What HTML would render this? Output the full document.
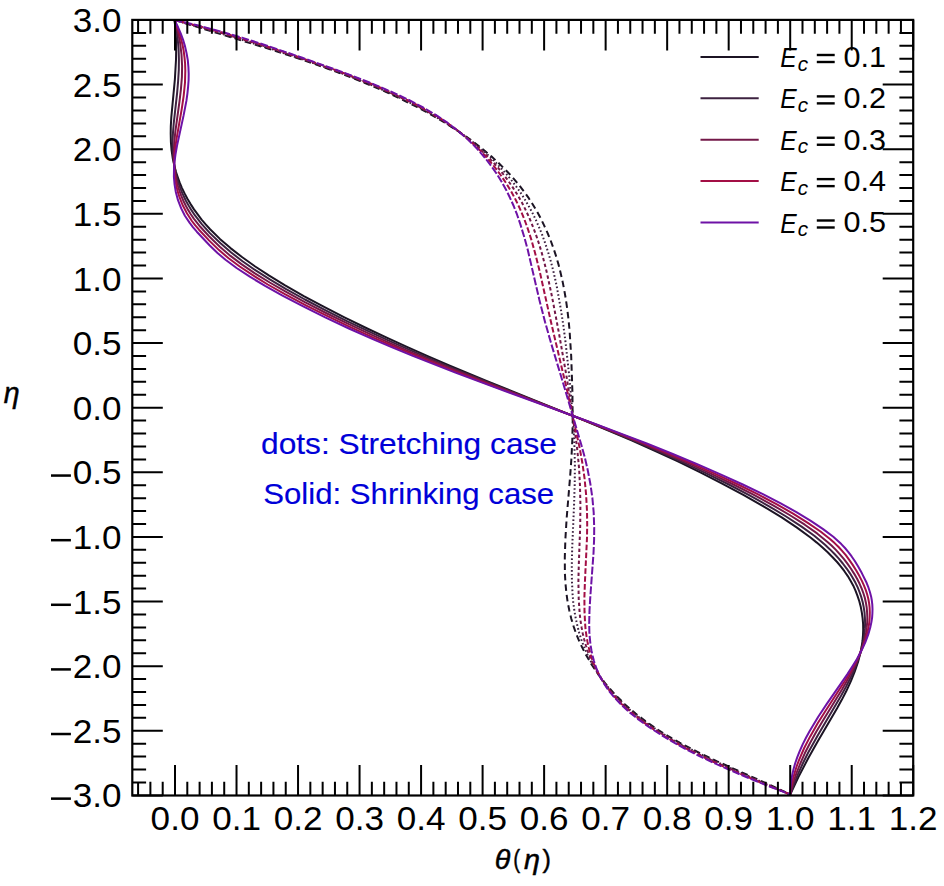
<!DOCTYPE html><html><head><meta charset="utf-8"><style>html,body{margin:0;padding:0;background:#fff;}svg{display:block;}text{font-family:"Liberation Sans",sans-serif;}</style></head><body>
<svg width="944" height="886" viewBox="0 0 944 886">
<rect width="944" height="886" fill="#fff"/>
<text x="261.0" y="453.8" font-size="29.3" fill="#0000d8" textLength="296" lengthAdjust="spacingAndGlyphs" stroke="#0000d8" stroke-width="0.15">dots: Stretching case</text>
<text x="263.2" y="504.0" font-size="29.3" fill="#0000d8" textLength="291" lengthAdjust="spacingAndGlyphs" stroke="#0000d8" stroke-width="0.15">Solid: Shrinking case</text>
<g fill="none" stroke-width="2.0" stroke-linejoin="round">
<path d="M174.5,20.0 175.4,28.7 176.0,38.4 176.2,48.6 176.0,59.7 174.9,79.1 171.3,117.4 170.8,126.1 170.7,133.8 170.9,142.1 171.6,150.3 172.8,158.5 174.5,166.3 176.0,172.1 177.8,177.4 179.7,182.7 182.0,188.1 184.6,193.4 187.4,198.7 190.6,204.1 194.0,209.4 197.9,214.7 201.6,219.6 205.7,224.4 210.1,229.2 219.9,238.9 230.5,248.1 242.3,257.3 255.2,266.5 269.2,275.7 285.1,285.4 303.8,296.1 323.6,306.7 344.4,317.4 367.2,328.5 386.7,337.7 406.9,346.9 427.7,356.1 449.2,365.4 487.7,381.3 582.2,419.6 607.8,430.3 631.5,440.4 655.4,451.1 678.4,461.7 700.3,472.4 721.2,483.1 743.8,495.2 764.3,506.8 781.7,517.4 797.0,527.6 810.8,537.8 816.8,542.6 822.5,547.5 827.7,552.3 832.6,557.2 837.1,562.0 841.1,566.8 844.4,571.2 847.8,576.1 850.7,580.9 853.3,585.7 855.5,590.6 857.5,595.9 859.3,601.2 860.8,607.1 861.8,612.4 862.6,618.2 863.1,624.0 863.2,629.8 863.0,635.1 862.5,641.0 861.6,646.8 860.5,652.6 858.1,661.8 854.8,671.5 850.9,681.2 846.2,691.3 841.9,699.6 837.1,708.3 817.5,741.7 808.5,757.7 798.4,777.1 790.2,794.5" stroke="#1c1424"/>
<path d="M174.5,20.0 176.3,29.2 177.7,38.9 178.6,49.1 178.9,59.2 178.8,69.9 178.1,81.5 177.1,93.1 173.7,123.7 173.0,132.4 172.6,140.1 172.7,149.3 173.3,158.0 174.4,166.3 176.1,174.5 177.5,179.8 179.2,185.2 181.2,190.5 183.3,195.3 185.9,200.7 188.6,205.5 191.6,210.4 194.8,215.2 201.6,223.9 209.9,233.1 220.5,243.3 231.2,252.5 242.5,261.2 255.7,270.4 270.2,279.6 285.7,288.8 304.9,299.5 325.2,310.1 347.5,321.3 370.9,332.4 389.9,341.1 409.6,349.9 429.9,358.6 451.9,367.8 490.3,383.3 586.1,421.1 612.4,431.7 635.5,441.4 660.1,452.1 683.7,462.7 706.3,473.4 727.8,484.0 749.1,495.2 769.1,506.3 786.1,516.5 801.6,526.6 814.3,535.8 820.3,540.7 825.3,545.1 830.0,549.4 834.8,554.3 838.8,558.6 842.8,563.5 846.5,568.3 849.8,573.1 852.8,578.0 855.5,582.8 857.8,587.7 859.7,592.5 861.4,597.4 862.7,602.2 863.7,607.1 864.5,612.4 864.9,617.7 865.1,623.0 864.9,628.4 864.4,633.7 863.7,639.0 862.5,644.8 860.5,652.6 857.7,660.8 854.3,669.5 850.3,678.3 845.9,687.0 840.8,696.2 817.7,735.4 808.1,752.8 802.8,763.5 798.0,774.2 793.9,784.3 790.2,794.5" stroke="#3d2240"/>
<path d="M174.5,20.0 177.8,31.6 180.1,42.8 181.5,54.4 182.1,66.0 181.9,77.2 180.9,89.3 179.5,101.4 175.3,131.9 174.5,140.1 174.0,147.9 173.8,156.6 174.2,165.3 175.2,173.5 176.7,181.3 178.0,186.1 179.5,191.0 181.3,195.8 183.3,200.7 185.7,205.5 188.1,209.9 190.8,214.2 193.8,218.6 200.3,226.8 208.8,236.0 219.8,246.7 230.5,255.9 241.4,264.1 254.9,273.3 269.7,282.5 285.7,291.7 305.3,302.4 327.0,313.5 348.8,324.2 372.8,335.3 391.2,343.6 410.2,351.8 452.5,369.2 493.2,385.2 589.0,422.0 616.0,432.7 639.8,442.4 665.0,453.0 688.2,463.2 711.3,473.9 732.4,484.0 753.4,494.7 773.1,505.3 789.6,515.0 804.8,524.7 817.1,533.4 827.2,541.7 831.5,545.5 835.9,549.9 839.9,554.3 844.0,559.1 847.6,563.9 851.0,568.8 854.4,574.1 857.2,579.0 859.6,583.8 861.7,588.6 863.3,593.0 864.8,597.8 865.9,602.7 866.7,607.5 867.1,612.4 867.3,617.2 867.2,622.1 866.7,627.4 866.1,632.2 865.0,637.6 862.8,645.8 859.9,654.0 856.3,662.8 851.5,672.4 847.3,680.2 842.0,689.4 823.6,719.4 816.4,731.5 810.2,742.7 804.8,753.3 800.1,764.0 796.1,774.2 792.8,784.3 790.2,794.5" stroke="#731848"/>
<path d="M174.5,20.0 177.0,26.3 179.2,32.6 180.9,38.4 182.5,44.7 183.7,51.0 184.5,57.3 185.1,63.6 185.3,70.4 185.0,82.5 183.7,95.6 181.8,108.6 176.5,139.2 175.3,147.4 174.6,154.7 174.2,163.4 174.4,171.6 175.2,179.4 176.6,187.1 177.8,191.9 179.2,196.3 182.6,205.0 186.9,213.3 191.9,221.0 195.3,225.4 199.0,229.7 209.0,240.4 219.0,250.1 228.6,258.3 239.7,266.5 253.5,275.7 267.8,284.5 284.9,294.2 305.9,305.3 327.0,315.9 349.3,326.6 372.7,337.3 391.6,345.5 411.1,353.7 453.2,370.7 493.7,386.2 593.3,423.5 619.7,433.6 644.1,443.3 670.0,454.0 693.7,464.2 716.4,474.3 738.1,484.5 758.6,494.7 776.9,504.4 793.1,513.6 807.8,522.8 820.5,531.5 830.3,539.2 834.6,543.1 838.6,547.0 842.1,550.9 845.8,555.2 849.4,560.1 852.7,564.9 856.4,570.7 859.4,576.1 861.9,580.9 863.9,585.3 865.8,590.1 867.2,594.5 868.3,598.8 869.1,603.2 869.6,607.5 869.8,612.4 869.7,617.2 869.3,622.1 868.6,626.9 867.6,631.8 865.5,639.5 862.5,647.7 858.9,656.0 854.5,664.7 850.1,672.4 845.0,680.7 825.6,710.7 817.7,723.3 810.2,736.4 804.2,748.0 799.0,760.1 796.8,765.9 795.0,771.7 793.5,777.1 792.1,782.9 791.0,788.7 790.2,794.5" stroke="#a30f45"/>
<path d="M174.5,20.0 178.1,27.3 180.8,33.6 183.1,39.9 185.1,46.6 186.6,53.4 187.8,60.2 188.4,67.0 188.7,73.8 188.6,80.1 188.1,86.8 187.4,93.6 186.4,100.9 183.6,115.4 177.0,145.9 175.6,153.7 174.6,161.0 174.0,169.2 173.9,176.9 174.6,184.7 175.8,191.9 178.0,200.2 181.2,208.4 184.9,215.7 189.7,222.9 193.1,227.3 196.8,231.7 209.5,245.2 217.5,253.0 225.5,259.8 236.6,268.0 249.8,276.7 265.1,285.9 282.5,295.6 303.7,306.7 325.2,317.4 348.9,328.5 372.8,339.2 392.2,347.4 412.2,355.7 455.4,372.6 497.0,388.1 596.5,424.4 623.5,434.6 647.4,443.8 672.8,454.0 697.2,464.2 720.5,474.3 742.8,484.5 762.9,494.2 780.7,503.4 796.4,512.1 810.8,520.8 823.1,529.1 833.3,536.8 837.7,540.7 841.3,544.1 845.0,548.0 848.2,551.8 851.5,556.2 854.8,561.0 858.3,566.8 861.8,573.1 866.6,582.8 868.5,587.7 869.9,592.0 871.1,596.4 871.8,600.3 872.3,604.6 872.5,609.0 872.4,613.3 872.1,617.7 871.4,622.1 870.4,626.9 868.2,634.7 865.3,642.4 861.5,650.6 857.0,658.9 852.6,666.1 847.6,673.9 826.8,703.9 818.1,717.0 809.7,731.0 806.0,737.8 802.8,744.1 799.8,750.9 797.3,757.2 795.1,763.5 793.4,769.8 792.1,775.6 791.1,781.9 790.4,788.2 790.2,794.5" stroke="#6e12a6"/>
<path d="M174.5,20.0 266.5,48.1 292.2,56.3 315.0,64.1 339.1,72.8 361.5,81.5 382.1,90.2 401.0,99.0 420.2,108.6 438.4,118.8 447.2,124.1 455.6,129.5 463.5,134.8 471.0,140.1 478.1,145.5 485.3,151.3 491.6,156.6 497.9,162.4 503.9,168.2 509.5,174.0 514.7,179.8 519.9,186.1 524.3,191.9 528.8,198.2 532.8,204.5 536.9,211.3 540.6,218.1 544.1,225.4 547.4,232.6 550.6,240.4 553.4,248.1 556.0,255.9 558.4,264.1 560.5,272.4 562.5,281.1 564.2,289.8 565.8,299.0 567.2,308.7 568.5,319.3 569.6,331.0 571.2,356.1 572.4,391.5 572.7,421.5 572.3,440.4 571.4,458.8 570.1,476.8 566.6,518.9 565.4,538.8 564.8,557.2 564.9,573.6 565.5,583.8 566.4,593.0 567.6,601.7 569.3,610.4 571.3,618.7 573.6,626.4 576.5,634.7 579.7,642.4 585.2,653.5 591.4,664.2 598.6,674.9 606.5,685.0 615.2,694.7 625.0,704.4 635.6,713.6 646.3,721.8 656.9,729.1 667.7,735.9 679.6,742.7 693.4,749.9 716.6,761.1 767.4,783.8 790.2,794.5" stroke="#1c1424" stroke-dasharray="6.5 4"/>
<path d="M174.5,20.0 214.6,31.6 248.4,41.8 279.0,51.5 308.0,61.2 333.9,70.4 358.0,79.6 379.1,88.3 399.4,97.5 417.8,106.7 434.4,115.9 450.0,125.6 457.2,130.4 464.6,135.8 471.6,141.1 478.2,146.4 484.4,151.7 490.2,157.1 495.6,162.4 501.1,168.2 506.3,174.0 511.1,179.8 515.9,186.1 520.4,192.4 524.4,198.7 528.4,205.5 532.1,212.3 535.7,219.6 539.1,227.3 542.3,235.1 545.2,243.3 547.9,251.5 550.5,260.2 552.8,269.0 555.0,278.2 557.1,288.3 561.0,310.1 563.3,325.2 565.4,341.1 569.5,378.4 572.5,412.8 573.6,429.8 574.4,444.8 574.9,464.6 574.7,485.5 574.0,506.3 572.2,547.5 571.8,564.4 571.9,580.4 572.6,594.5 573.3,602.7 574.4,610.9 575.8,618.7 577.4,625.9 579.3,633.2 581.5,640.0 584.0,646.8 586.9,653.5 592.0,663.7 597.8,673.4 604.3,682.6 611.8,691.8 620.0,700.5 629.3,709.3 639.3,717.5 649.9,725.2 660.9,732.5 672.2,739.3 684.5,746.1 698.7,753.3 710.8,759.1 725.5,765.9 790.2,794.5" stroke="#3d2240" stroke-dasharray="1.6 2.3"/>
<path d="M174.5,20.0 203.2,27.7 233.2,36.5 264.4,46.2 296.6,56.8 327.2,67.5 353.2,77.2 376.0,86.4 396.8,95.6 414.5,104.3 430.4,113.0 444.7,121.7 458.0,130.9 470.4,140.6 476.5,145.9 482.3,151.3 487.7,156.6 492.8,161.9 498.0,167.7 502.7,173.5 507.9,180.3 512.9,187.6 517.5,194.9 521.7,202.1 525.6,209.9 529.2,217.6 532.8,226.3 536.1,235.1 539.0,243.8 541.8,253.0 544.4,262.7 547.0,273.3 552.0,296.6 559.0,333.4 566.3,375.0 571.6,408.5 576.7,444.8 578.0,456.9 579.1,468.5 580.0,486.0 580.4,504.4 580.2,526.2 578.8,564.9 578.4,581.4 578.7,598.8 579.7,613.8 580.5,620.6 581.6,627.4 582.8,633.7 584.2,639.5 586.0,645.8 587.9,651.6 590.1,657.4 592.5,662.8 597.2,672.0 602.6,680.7 609.1,689.4 616.2,697.6 624.0,705.4 632.8,713.1 642.7,720.9 653.7,728.6 665.2,735.9 676.8,742.7 689.5,749.5 704.0,756.7 718.5,763.5 734.8,770.8 790.2,794.5" stroke="#731848" stroke-dasharray="3.4 2.6"/>
<path d="M174.5,20.0 199.6,26.3 225.8,33.6 252.9,41.8 281.1,51.0 319.0,64.1 348.2,74.7 372.8,84.4 395.1,94.1 411.2,101.9 426.5,110.1 440.2,118.3 446.8,122.7 452.9,127.0 458.7,131.4 464.7,136.2 470.2,141.1 475.5,145.9 480.4,150.8 485.4,156.1 494.5,166.8 500.6,175.0 506.2,183.2 511.2,191.5 515.9,200.2 520.0,208.9 524.1,218.6 527.8,228.8 531.4,239.9 535.6,254.9 539.8,271.9 550.7,320.8 567.7,393.0 579.4,446.7 582.4,463.2 584.6,478.7 586.1,494.7 587.0,511.1 587.2,524.2 587.0,537.8 584.9,582.3 584.4,597.4 584.5,611.4 585.1,623.5 585.6,629.8 586.5,636.1 587.5,641.9 588.8,647.7 590.3,653.5 592.0,658.9 594.0,664.2 596.4,669.5 600.7,677.8 606.0,686.0 612.0,693.8 619.0,701.5 627.1,709.3 635.8,716.5 646.2,724.3 656.9,731.5 668.7,738.8 680.7,745.6 693.6,752.4 708.5,759.6 724.3,766.9 742.1,774.6 762.8,783.4 790.2,794.5" stroke="#a30f45" stroke-dasharray="5.6 2.3"/>
<path d="M174.5,20.0 197.4,25.3 219.5,31.1 242.7,37.9 267.0,45.7 302.4,57.8 344.4,72.8 369.5,82.5 391.2,91.7 407.8,99.4 422.6,107.2 435.8,114.9 447.4,122.7 458.1,130.9 468.0,139.6 473.0,144.5 477.6,149.3 486.3,159.5 491.8,166.8 496.8,174.0 501.6,181.8 506.2,190.0 510.0,197.8 513.7,206.0 517.1,214.7 520.4,224.4 524.1,236.5 527.8,250.1 539.4,300.0 545.1,322.2 550.9,342.6 565.2,390.1 581.3,444.8 584.9,457.9 587.5,469.0 590.3,483.5 592.4,498.1 593.7,512.6 594.2,527.6 594.1,539.7 593.5,553.3 590.3,596.9 589.5,610.4 589.2,623.0 589.4,633.7 590.5,644.8 591.4,650.2 592.5,655.5 593.9,660.8 595.4,665.7 597.3,670.5 599.2,674.9 603.4,682.6 608.6,690.4 614.5,697.6 621.4,704.9 629.3,712.2 638.4,719.4 649.2,727.2 660.3,734.4 672.4,741.7 684.7,748.5 698.9,755.8 714.1,763.0 730.3,770.3 748.6,778.0 767.8,785.8 790.2,794.5" stroke="#6e12a6" stroke-dasharray="7.8 2.1"/>
</g>
<path d="M175.00,795.50V765.00M175.00,19.90V50.40M236.52,795.50V765.00M236.52,19.90V50.40M298.04,795.50V765.00M298.04,19.90V50.40M359.56,795.50V765.00M359.56,19.90V50.40M421.08,795.50V765.00M421.08,19.90V50.40M482.60,795.50V765.00M482.60,19.90V50.40M544.12,795.50V765.00M544.12,19.90V50.40M605.64,795.50V765.00M605.64,19.90V50.40M667.16,795.50V765.00M667.16,19.90V50.40M728.68,795.50V765.00M728.68,19.90V50.40M790.20,795.50V765.00M790.20,19.90V50.40M851.72,795.50V765.00M851.72,19.90V50.40M913.24,795.50V765.00M913.24,19.90V50.40M138.09,795.50V781.70M138.09,19.90V33.70M150.39,795.50V781.70M150.39,19.90V33.70M162.70,795.50V781.70M162.70,19.90V33.70M187.30,795.50V781.70M187.30,19.90V33.70M199.61,795.50V781.70M199.61,19.90V33.70M211.91,795.50V781.70M211.91,19.90V33.70M224.22,795.50V781.70M224.22,19.90V33.70M248.82,795.50V781.70M248.82,19.90V33.70M261.13,795.50V781.70M261.13,19.90V33.70M273.43,795.50V781.70M273.43,19.90V33.70M285.74,795.50V781.70M285.74,19.90V33.70M310.34,795.50V781.70M310.34,19.90V33.70M322.65,795.50V781.70M322.65,19.90V33.70M334.95,795.50V781.70M334.95,19.90V33.70M347.26,795.50V781.70M347.26,19.90V33.70M371.86,795.50V781.70M371.86,19.90V33.70M384.17,795.50V781.70M384.17,19.90V33.70M396.47,795.50V781.70M396.47,19.90V33.70M408.78,795.50V781.70M408.78,19.90V33.70M433.38,795.50V781.70M433.38,19.90V33.70M445.69,795.50V781.70M445.69,19.90V33.70M457.99,795.50V781.70M457.99,19.90V33.70M470.30,795.50V781.70M470.30,19.90V33.70M494.90,795.50V781.70M494.90,19.90V33.70M507.21,795.50V781.70M507.21,19.90V33.70M519.51,795.50V781.70M519.51,19.90V33.70M531.82,795.50V781.70M531.82,19.90V33.70M556.42,795.50V781.70M556.42,19.90V33.70M568.73,795.50V781.70M568.73,19.90V33.70M581.03,795.50V781.70M581.03,19.90V33.70M593.34,795.50V781.70M593.34,19.90V33.70M617.94,795.50V781.70M617.94,19.90V33.70M630.25,795.50V781.70M630.25,19.90V33.70M642.55,795.50V781.70M642.55,19.90V33.70M654.86,795.50V781.70M654.86,19.90V33.70M679.46,795.50V781.70M679.46,19.90V33.70M691.77,795.50V781.70M691.77,19.90V33.70M704.07,795.50V781.70M704.07,19.90V33.70M716.38,795.50V781.70M716.38,19.90V33.70M740.98,795.50V781.70M740.98,19.90V33.70M753.29,795.50V781.70M753.29,19.90V33.70M765.59,795.50V781.70M765.59,19.90V33.70M777.90,795.50V781.70M777.90,19.90V33.70M802.50,795.50V781.70M802.50,19.90V33.70M814.81,795.50V781.70M814.81,19.90V33.70M827.11,795.50V781.70M827.11,19.90V33.70M839.42,795.50V781.70M839.42,19.90V33.70M864.02,795.50V781.70M864.02,19.90V33.70M876.33,795.50V781.70M876.33,19.90V33.70M888.63,795.50V781.70M888.63,19.90V33.70M900.94,795.50V781.70M900.94,19.90V33.70M132.30,795.39H162.80M913.20,795.39H882.70M132.30,730.77H162.80M913.20,730.77H882.70M132.30,666.16H162.80M913.20,666.16H882.70M132.30,601.54H162.80M913.20,601.54H882.70M132.30,536.93H162.80M913.20,536.93H882.70M132.30,472.31H162.80M913.20,472.31H882.70M132.30,407.70H162.80M913.20,407.70H882.70M132.30,343.08H162.80M913.20,343.08H882.70M132.30,278.47H162.80M913.20,278.47H882.70M132.30,213.86H162.80M913.20,213.86H882.70M132.30,149.24H162.80M913.20,149.24H882.70M132.30,84.62H162.80M913.20,84.62H882.70M132.30,20.01H162.80M913.20,20.01H882.70M132.30,782.47H146.10M913.20,782.47H899.40M132.30,769.54H146.10M913.20,769.54H899.40M132.30,756.62H146.10M913.20,756.62H899.40M132.30,743.70H146.10M913.20,743.70H899.40M132.30,717.85H146.10M913.20,717.85H899.40M132.30,704.93H146.10M913.20,704.93H899.40M132.30,692.01H146.10M913.20,692.01H899.40M132.30,679.08H146.10M913.20,679.08H899.40M132.30,653.24H146.10M913.20,653.24H899.40M132.30,640.31H146.10M913.20,640.31H899.40M132.30,627.39H146.10M913.20,627.39H899.40M132.30,614.47H146.10M913.20,614.47H899.40M132.30,588.62H146.10M913.20,588.62H899.40M132.30,575.70H146.10M913.20,575.70H899.40M132.30,562.78H146.10M913.20,562.78H899.40M132.30,549.85H146.10M913.20,549.85H899.40M132.30,524.01H146.10M913.20,524.01H899.40M132.30,511.08H146.10M913.20,511.08H899.40M132.30,498.16H146.10M913.20,498.16H899.40M132.30,485.24H146.10M913.20,485.24H899.40M132.30,459.39H146.10M913.20,459.39H899.40M132.30,446.47H146.10M913.20,446.47H899.40M132.30,433.55H146.10M913.20,433.55H899.40M132.30,420.62H146.10M913.20,420.62H899.40M132.30,394.78H146.10M913.20,394.78H899.40M132.30,381.85H146.10M913.20,381.85H899.40M132.30,368.93H146.10M913.20,368.93H899.40M132.30,356.01H146.10M913.20,356.01H899.40M132.30,330.16H146.10M913.20,330.16H899.40M132.30,317.24H146.10M913.20,317.24H899.40M132.30,304.32H146.10M913.20,304.32H899.40M132.30,291.39H146.10M913.20,291.39H899.40M132.30,265.55H146.10M913.20,265.55H899.40M132.30,252.62H146.10M913.20,252.62H899.40M132.30,239.70H146.10M913.20,239.70H899.40M132.30,226.78H146.10M913.20,226.78H899.40M132.30,200.93H146.10M913.20,200.93H899.40M132.30,188.01H146.10M913.20,188.01H899.40M132.30,175.09H146.10M913.20,175.09H899.40M132.30,162.16H146.10M913.20,162.16H899.40M132.30,136.32H146.10M913.20,136.32H899.40M132.30,123.39H146.10M913.20,123.39H899.40M132.30,110.47H146.10M913.20,110.47H899.40M132.30,97.55H146.10M913.20,97.55H899.40M132.30,71.70H146.10M913.20,71.70H899.40M132.30,58.78H146.10M913.20,58.78H899.40M132.30,45.86H146.10M913.20,45.86H899.40M132.30,32.93H146.10M913.20,32.93H899.40" stroke="#000" stroke-width="2.0" fill="none"/>
<rect x="132.30" y="19.90" width="780.90" height="775.60" fill="none" stroke="#000" stroke-width="2.2"/>
<text font-size="32.8" text-anchor="end" fill="#000" transform="translate(121.60,807.49) scale(1.07,1)">3.0</text>
<rect x="51.0" y="797.39" width="19.9" height="2.5" fill="#000"/>
<text font-size="32.8" text-anchor="end" fill="#000" transform="translate(121.60,742.88) scale(1.07,1)">2.5</text>
<rect x="51.0" y="732.77" width="19.9" height="2.5" fill="#000"/>
<text font-size="32.8" text-anchor="end" fill="#000" transform="translate(121.60,678.26) scale(1.07,1)">2.0</text>
<rect x="51.0" y="668.16" width="19.9" height="2.5" fill="#000"/>
<text font-size="32.8" text-anchor="end" fill="#000" transform="translate(121.60,613.64) scale(1.07,1)">1.5</text>
<rect x="51.0" y="603.54" width="19.9" height="2.5" fill="#000"/>
<text font-size="32.8" text-anchor="end" fill="#000" transform="translate(121.60,549.03) scale(1.07,1)">1.0</text>
<rect x="51.0" y="538.93" width="19.9" height="2.5" fill="#000"/>
<text font-size="32.8" text-anchor="end" fill="#000" transform="translate(121.60,484.42) scale(1.07,1)">0.5</text>
<rect x="51.0" y="474.31" width="19.9" height="2.5" fill="#000"/>
<text font-size="32.8" text-anchor="end" fill="#000" transform="translate(121.60,419.80) scale(1.07,1)">0.0</text>
<text font-size="32.8" text-anchor="end" fill="#000" transform="translate(121.60,355.19) scale(1.07,1)">0.5</text>
<text font-size="32.8" text-anchor="end" fill="#000" transform="translate(121.60,290.57) scale(1.07,1)">1.0</text>
<text font-size="32.8" text-anchor="end" fill="#000" transform="translate(121.60,225.96) scale(1.07,1)">1.5</text>
<text font-size="32.8" text-anchor="end" fill="#000" transform="translate(121.60,161.34) scale(1.07,1)">2.0</text>
<text font-size="32.8" text-anchor="end" fill="#000" transform="translate(121.60,96.72) scale(1.07,1)">2.5</text>
<text font-size="32.8" text-anchor="end" fill="#000" transform="translate(121.60,32.11) scale(1.07,1)">3.0</text>
<text font-size="32.8" text-anchor="middle" fill="#000" transform="translate(175.00,829.60) scale(1.07,1)">0.0</text>
<text font-size="32.8" text-anchor="middle" fill="#000" transform="translate(236.52,829.60) scale(1.07,1)">0.1</text>
<text font-size="32.8" text-anchor="middle" fill="#000" transform="translate(298.04,829.60) scale(1.07,1)">0.2</text>
<text font-size="32.8" text-anchor="middle" fill="#000" transform="translate(359.56,829.60) scale(1.07,1)">0.3</text>
<text font-size="32.8" text-anchor="middle" fill="#000" transform="translate(421.08,829.60) scale(1.07,1)">0.4</text>
<text font-size="32.8" text-anchor="middle" fill="#000" transform="translate(482.60,829.60) scale(1.07,1)">0.5</text>
<text font-size="32.8" text-anchor="middle" fill="#000" transform="translate(544.12,829.60) scale(1.07,1)">0.6</text>
<text font-size="32.8" text-anchor="middle" fill="#000" transform="translate(605.64,829.60) scale(1.07,1)">0.7</text>
<text font-size="32.8" text-anchor="middle" fill="#000" transform="translate(667.16,829.60) scale(1.07,1)">0.8</text>
<text font-size="32.8" text-anchor="middle" fill="#000" transform="translate(728.68,829.60) scale(1.07,1)">0.9</text>
<text font-size="32.8" text-anchor="middle" fill="#000" transform="translate(790.20,829.60) scale(1.07,1)">1.0</text>
<text font-size="32.8" text-anchor="middle" fill="#000" transform="translate(851.72,829.60) scale(1.07,1)">1.1</text>
<text font-size="32.8" text-anchor="middle" fill="#000" transform="translate(913.24,829.60) scale(1.07,1)">1.2</text>
<path d="M700.5,56.90H758.7" stroke="#1c1424" stroke-width="2.0"/>
<text font-size="28.34" font-style="italic" fill="#000" transform="translate(780.34,67.00) scale(0.869,1)">E</text>
<text font-size="20.99" font-style="italic" fill="#000" transform="translate(797.73,70.60) scale(0.982,1)">c</text>
<rect x="816.8" y="53.80" width="17.9" height="2.4" fill="#000"/>
<rect x="816.8" y="60.80" width="17.9" height="2.4" fill="#000"/>
<text font-size="28.6" transform="translate(843.6,66.90) scale(1.07,1)">0.1</text>
<path d="M700.5,98.28H758.7" stroke="#3d2240" stroke-width="2.0"/>
<text font-size="28.34" font-style="italic" fill="#000" transform="translate(780.34,108.38) scale(0.869,1)">E</text>
<text font-size="20.99" font-style="italic" fill="#000" transform="translate(797.73,111.97) scale(0.982,1)">c</text>
<rect x="816.8" y="95.18" width="17.9" height="2.4" fill="#000"/>
<rect x="816.8" y="102.18" width="17.9" height="2.4" fill="#000"/>
<text font-size="28.6" transform="translate(843.6,108.28) scale(1.07,1)">0.2</text>
<path d="M700.5,139.65H758.7" stroke="#731848" stroke-width="2.0"/>
<text font-size="28.34" font-style="italic" fill="#000" transform="translate(780.34,149.75) scale(0.869,1)">E</text>
<text font-size="20.99" font-style="italic" fill="#000" transform="translate(797.73,153.35) scale(0.982,1)">c</text>
<rect x="816.8" y="136.55" width="17.9" height="2.4" fill="#000"/>
<rect x="816.8" y="143.55" width="17.9" height="2.4" fill="#000"/>
<text font-size="28.6" transform="translate(843.6,149.65) scale(1.07,1)">0.3</text>
<path d="M700.5,181.03H758.7" stroke="#a30f45" stroke-width="2.0"/>
<text font-size="28.34" font-style="italic" fill="#000" transform="translate(780.34,191.12) scale(0.869,1)">E</text>
<text font-size="20.99" font-style="italic" fill="#000" transform="translate(797.73,194.72) scale(0.982,1)">c</text>
<rect x="816.8" y="177.93" width="17.9" height="2.4" fill="#000"/>
<rect x="816.8" y="184.93" width="17.9" height="2.4" fill="#000"/>
<text font-size="28.6" transform="translate(843.6,191.03) scale(1.07,1)">0.4</text>
<path d="M700.5,222.40H758.7" stroke="#6e12a6" stroke-width="2.0"/>
<text font-size="28.34" font-style="italic" fill="#000" transform="translate(780.34,232.50) scale(0.869,1)">E</text>
<text font-size="20.99" font-style="italic" fill="#000" transform="translate(797.73,236.10) scale(0.982,1)">c</text>
<rect x="816.8" y="219.30" width="17.9" height="2.4" fill="#000"/>
<rect x="816.8" y="226.30" width="17.9" height="2.4" fill="#000"/>
<text font-size="28.6" transform="translate(843.6,232.40) scale(1.07,1)">0.5</text>
<text font-size="28.72" font-style="italic" fill="#000" transform="translate(3.73,402.64) scale(0.994,1)" stroke="#000" stroke-width="0.5">η</text>
<text font-size="27.91" font-style="italic" fill="#000" transform="translate(494.78,869.43) scale(1.028,1)" stroke="#000" stroke-width="0.5">θ</text>
<text font-size="25.87" fill="#000" transform="translate(513.21,867.64) scale(0.802,1)" stroke="#000" stroke-width="0.4">(</text>
<text font-size="27.51" font-style="italic" fill="#000" transform="translate(523.92,869.19) scale(1.045,1)" stroke="#000" stroke-width="0.5">η</text>
<text font-size="25.87" fill="#000" transform="translate(542.45,867.64) scale(0.977,1)" stroke="#000" stroke-width="0.4">)</text>
</svg></body></html>
